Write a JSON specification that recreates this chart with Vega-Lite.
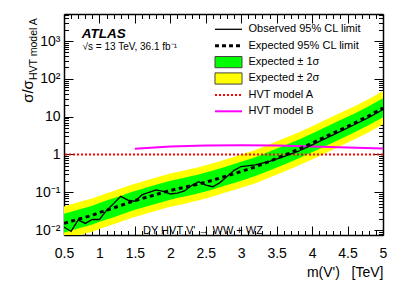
{
  "$schema": "https://vega.github.io/schema/vega-lite/v6.json",
  "width": 319,
  "height": 221,
  "autosize": {"type": "none"},
  "padding": {"left": 64, "top": 14, "right": 20, "bottom": 57},
  "background": "white",
  "config": {
    "view": {"stroke": null},
    "font": "Liberation Sans",
    "axis": {
      "domainColor": "black", "domainWidth": 1.5, "tickColor": "black", "tickWidth": 1,
      "labelFont": "Liberation Sans", "labelFontSize": 14, "labelColor": "black",
      "titleFont": "Liberation Sans", "titleColor": "black", "titleFontWeight": "normal", "grid": false,
      "labelOverlap": false, "labelFlush": false, "labelBound": false
    },
    "text": {"font": "Liberation Sans", "color": "black"}
  },
  "datasets": {
    "limits": [
      {"m": 0.5, "exp": 0.0150, "obs": 0.0121, "lo2": 0.00555, "lo1": 0.00855, "hi1": 0.0270, "hi2": 0.0420},
      {"m": 0.6, "exp": 0.0170, "obs": 0.0092, "lo2": 0.00629, "lo1": 0.00969, "hi1": 0.0306, "hi2": 0.0476},
      {"m": 0.7, "exp": 0.0193, "obs": 0.0185, "lo2": 0.00714, "lo1": 0.0110, "hi1": 0.0347, "hi2": 0.0540},
      {"m": 0.8, "exp": 0.0218, "obs": 0.0150, "lo2": 0.00807, "lo1": 0.0124, "hi1": 0.0392, "hi2": 0.0610},
      {"m": 0.9, "exp": 0.0245, "obs": 0.0190, "lo2": 0.00907, "lo1": 0.0140, "hi1": 0.0441, "hi2": 0.0686},
      {"m": 1.0, "exp": 0.0290, "obs": 0.0190, "lo2": 0.0107, "lo1": 0.0165, "hi1": 0.0522, "hi2": 0.0812},
      {"m": 1.1, "exp": 0.0335, "obs": 0.0330, "lo2": 0.0124, "lo1": 0.0191, "hi1": 0.0603, "hi2": 0.0938},
      {"m": 1.2, "exp": 0.0385, "obs": 0.0500, "lo2": 0.0142, "lo1": 0.0219, "hi1": 0.0693, "hi2": 0.108},
      {"m": 1.3, "exp": 0.0445, "obs": 0.0780, "lo2": 0.0165, "lo1": 0.0254, "hi1": 0.0801, "hi2": 0.125},
      {"m": 1.4, "exp": 0.0520, "obs": 0.0620, "lo2": 0.0192, "lo1": 0.0296, "hi1": 0.0936, "hi2": 0.146},
      {"m": 1.5, "exp": 0.0600, "obs": 0.0580, "lo2": 0.0222, "lo1": 0.0342, "hi1": 0.108, "hi2": 0.168},
      {"m": 1.6, "exp": 0.0680, "obs": 0.0850, "lo2": 0.0252, "lo1": 0.0388, "hi1": 0.122, "hi2": 0.190},
      {"m": 1.7, "exp": 0.0770, "obs": 0.1000, "lo2": 0.0285, "lo1": 0.0439, "hi1": 0.139, "hi2": 0.216},
      {"m": 1.8, "exp": 0.0870, "obs": 0.1150, "lo2": 0.0322, "lo1": 0.0496, "hi1": 0.157, "hi2": 0.244},
      {"m": 1.9, "exp": 0.0990, "obs": 0.1050, "lo2": 0.0366, "lo1": 0.0564, "hi1": 0.178, "hi2": 0.277},
      {"m": 2.0, "exp": 0.112, "obs": 0.0900, "lo2": 0.0414, "lo1": 0.0638, "hi1": 0.202, "hi2": 0.314},
      {"m": 2.1, "exp": 0.123, "obs": 0.0950, "lo2": 0.0455, "lo1": 0.0701, "hi1": 0.221, "hi2": 0.344},
      {"m": 2.2, "exp": 0.135, "obs": 0.1080, "lo2": 0.0500, "lo1": 0.0770, "hi1": 0.243, "hi2": 0.378},
      {"m": 2.3, "exp": 0.149, "obs": 0.1500, "lo2": 0.0551, "lo1": 0.0849, "hi1": 0.268, "hi2": 0.417},
      {"m": 2.4, "exp": 0.165, "obs": 0.1900, "lo2": 0.0611, "lo1": 0.0941, "hi1": 0.297, "hi2": 0.462},
      {"m": 2.5, "exp": 0.185, "obs": 0.1550, "lo2": 0.0685, "lo1": 0.105, "hi1": 0.333, "hi2": 0.518},
      {"m": 2.6, "exp": 0.208, "obs": 0.1400, "lo2": 0.0770, "lo1": 0.119, "hi1": 0.374, "hi2": 0.582},
      {"m": 2.7, "exp": 0.238, "obs": 0.1800, "lo2": 0.0881, "lo1": 0.136, "hi1": 0.428, "hi2": 0.666},
      {"m": 2.8, "exp": 0.272, "obs": 0.2600, "lo2": 0.101, "lo1": 0.155, "hi1": 0.490, "hi2": 0.762},
      {"m": 2.9, "exp": 0.310, "obs": 0.3800, "lo2": 0.115, "lo1": 0.177, "hi1": 0.558, "hi2": 0.868},
      {"m": 3.0, "exp": 0.355, "obs": 0.4800, "lo2": 0.131, "lo1": 0.202, "hi1": 0.639, "hi2": 0.994},
      {"m": 3.2, "exp": 0.470, "obs": 0.5300, "lo2": 0.174, "lo1": 0.268, "hi1": 0.846, "hi2": 1.32},
      {"m": 3.4, "exp": 0.660, "obs": 0.6600, "lo2": 0.244, "lo1": 0.376, "hi1": 1.19, "hi2": 1.85},
      {"m": 3.6, "exp": 0.940, "obs": 0.8800, "lo2": 0.348, "lo1": 0.536, "hi1": 1.69, "hi2": 2.63},
      {"m": 3.8, "exp": 1.35, "obs": 1.20, "lo2": 0.500, "lo1": 0.770, "hi1": 2.43, "hi2": 3.78},
      {"m": 4.0, "exp": 2.00, "obs": 1.80, "lo2": 0.740, "lo1": 1.14, "hi1": 3.60, "hi2": 5.60},
      {"m": 4.2, "exp": 3.00, "obs": 2.70, "lo2": 1.11, "lo1": 1.71, "hi1": 5.40, "hi2": 8.40},
      {"m": 4.4, "exp": 4.50, "obs": 4.10, "lo2": 1.67, "lo1": 2.57, "hi1": 8.10, "hi2": 12.6},
      {"m": 4.6, "exp": 6.80, "obs": 6.20, "lo2": 2.52, "lo1": 3.88, "hi1": 12.2, "hi2": 19.0},
      {"m": 4.8, "exp": 10.5, "obs": 9.50, "lo2": 3.89, "lo1": 5.99, "hi1": 18.9, "hi2": 29.4},
      {"m": 5.0, "exp": 17.0, "obs": 15.5, "lo2": 6.29, "lo1": 9.69, "hi1": 30.6, "hi2": 47.6}
    ],
    "modelB": [
      {"m": 1.5, "xs": 1.42},
      {"m": 2.0, "xs": 1.62},
      {"m": 2.5, "xs": 1.72},
      {"m": 3.0, "xs": 1.75},
      {"m": 3.5, "xs": 1.72},
      {"m": 4.0, "xs": 1.63},
      {"m": 4.5, "xs": 1.52},
      {"m": 5.0, "xs": 1.43}
    ],
    "one": [{}]
  },
  "layer": [
    {
      "data": {"name": "limits"},
      "mark": {"type": "area", "clip": true, "opacity": 1, "color": "#ffff00"},
      "encoding": {
        "x": {
          "field": "m", "type": "quantitative",
          "scale": {"domain": [0.5, 5], "nice": false, "zero": false},
          "axis": {
            "orient": "bottom",
            "values": [0.5,0.6,0.7,0.8,0.9,1,1.1,1.2,1.3,1.4,1.5,1.6,1.7,1.8,1.9,2,2.1,2.2,2.3,2.4,2.5,2.6,2.7,2.8,2.9,3,3.1,3.2,3.3,3.4,3.5,3.6,3.7,3.8,3.9,4,4.1,4.2,4.3,4.4,4.5,4.6,4.7,4.8,4.9,5],
            "labelExpr": "abs(datum.value*2-round(datum.value*2))<0.001 ? format(datum.value,'~g') : ''",
            "tickSize": {"condition": {"test": "abs(datum.value*2-round(datum.value*2))<0.001", "value": -9}, "value": -4.5},
            "labelPadding": 20,
            "title": "m(V')\u00a0\u00a0\u00a0[TeV]",
            "titleFontSize": 14,
            "titleX": 319, "titleY": 37, "titleAlign": "right", "titleBaseline": "middle", "titleAngle": 0
          }
        },
        "y": {
          "field": "lo2", "type": "quantitative",
          "scale": {"type": "log", "domain": [0.0074, 5200], "nice": false},
          "axis": {
            "orient": "left",
            "values": [0.008,0.009,0.01,0.02,0.03,0.04,0.05,0.06,0.07,0.08,0.09,0.1,0.2,0.3,0.4,0.5,0.6,0.7,0.8,0.9,1,2,3,4,5,6,7,8,9,10,20,30,40,50,60,70,80,90,100,200,300,400,500,600,700,800,900,1000,2000,3000,4000,5000],
            "labelExpr": "datum.value==0.01?'10⁻²':datum.value==0.1?'10⁻¹':datum.value==1?'1':datum.value==10?'10':datum.value==100?'10²':datum.value==1000?'10³':''",
            "tickSize": {"condition": {"test": "datum.value==0.01||datum.value==0.1||datum.value==1||datum.value==10||datum.value==100||datum.value==1000", "value": -9}, "value": -4.5},
            "labelPadding": 13,
            "title": "σ/σ",
            "titleFontSize": 15,
            "titleX": -36.5, "titleY": 77, "titleAngle": 270, "titleAlign": "center", "titleBaseline": "middle"
          }
        },
        "y2": {"field": "hi2"}
      }
    },
    {
      "data": {"name": "limits"},
      "mark": {"type": "area", "clip": true, "opacity": 1, "color": "#00ff00"},
      "encoding": {
        "x": {
          "field": "m", "type": "quantitative",
          "axis": {
            "orient": "top",
            "values": [0.5,0.6,0.7,0.8,0.9,1,1.1,1.2,1.3,1.4,1.5,1.6,1.7,1.8,1.9,2,2.1,2.2,2.3,2.4,2.5,2.6,2.7,2.8,2.9,3,3.1,3.2,3.3,3.4,3.5,3.6,3.7,3.8,3.9,4,4.1,4.2,4.3,4.4,4.5,4.6,4.7,4.8,4.9,5],
            "labels": false,
            "tickSize": {"condition": {"test": "abs(datum.value*2-round(datum.value*2))<0.001", "value": -9}, "value": -4.5},
            "title": null
          }
        },
        "y": {
          "field": "lo1", "type": "quantitative",
          "axis": {
            "orient": "right",
            "values": [0.008,0.009,0.01,0.02,0.03,0.04,0.05,0.06,0.07,0.08,0.09,0.1,0.2,0.3,0.4,0.5,0.6,0.7,0.8,0.9,1,2,3,4,5,6,7,8,9,10,20,30,40,50,60,70,80,90,100,200,300,400,500,600,700,800,900,1000,2000,3000,4000,5000],
            "labels": false,
            "tickSize": {"condition": {"test": "datum.value==0.01||datum.value==0.1||datum.value==1||datum.value==10||datum.value==100||datum.value==1000", "value": -9}, "value": -4.5},
            "title": null
          }
        },
        "y2": {"field": "hi1"}
      }
    },
    {
      "data": {"name": "one"},
      "mark": {"type": "rule", "color": "#ff0000", "strokeDash": [2, 2], "strokeWidth": 2},
      "encoding": {"y": {"datum": 1, "type": "quantitative", "axis": null}}
    },
    {
      "data": {"name": "modelB"},
      "mark": {"type": "line", "clip": true, "color": "#ff00ff", "strokeWidth": 2},
      "encoding": {
        "x": {"field": "m", "type": "quantitative", "axis": null},
        "y": {"field": "xs", "type": "quantitative", "axis": null}
      }
    },
    {
      "data": {"name": "limits"},
      "mark": {"type": "line", "clip": true, "color": "black", "strokeWidth": 1.3},
      "encoding": {
        "x": {"field": "m", "type": "quantitative", "axis": null},
        "y": {"field": "obs", "type": "quantitative", "axis": null}
      }
    },
    {
      "data": {"name": "limits"},
      "mark": {"type": "line", "clip": true, "color": "black", "strokeWidth": 3, "strokeDash": [4, 3.5]},
      "encoding": {
        "x": {"field": "m", "type": "quantitative", "axis": null},
        "y": {"field": "exp", "type": "quantitative", "axis": null}
      }
    },
    {
      "data": {"name": "one"},
      "mark": {"type": "rule", "color": "black", "strokeWidth": 1.3},
      "encoding": {
        "x": {"datum": 2.63, "type": "quantitative", "axis": null},
        "x2": {"datum": 3.011},
        "y": {"datum": 2047, "type": "quantitative", "axis": null}
      }
    },
    {
      "data": {"name": "one"},
      "mark": {"type": "rule", "color": "black", "strokeWidth": 3, "strokeDash": [4, 3]},
      "encoding": {
        "x": {"datum": 2.63, "type": "quantitative", "axis": null},
        "x2": {"datum": 3.011},
        "y": {"datum": 754, "type": "quantitative", "axis": null}
      }
    },
    {
      "data": {"name": "one"},
      "mark": {"type": "rect", "fill": "#00ff00", "stroke": "#444444", "strokeWidth": 1},
      "encoding": {
        "x": {"datum": 2.63, "type": "quantitative", "axis": null},
        "x2": {"datum": 3.011},
        "y": {"datum": 197, "type": "quantitative", "axis": null},
        "y2": {"datum": 389.5}
      }
    },
    {
      "data": {"name": "one"},
      "mark": {"type": "rect", "fill": "#ffff00", "stroke": "#444444", "strokeWidth": 1},
      "encoding": {
        "x": {"datum": 2.63, "type": "quantitative", "axis": null},
        "x2": {"datum": 3.011},
        "y": {"datum": 72.8, "type": "quantitative", "axis": null},
        "y2": {"datum": 143.8}
      }
    },
    {
      "data": {"name": "one"},
      "mark": {"type": "rule", "color": "#ff0000", "strokeWidth": 2, "strokeDash": [2, 2]},
      "encoding": {
        "x": {"datum": 2.63, "type": "quantitative", "axis": null},
        "x2": {"datum": 3.011},
        "y": {"datum": 37.6, "type": "quantitative", "axis": null}
      }
    },
    {
      "data": {"name": "one"},
      "mark": {"type": "rule", "color": "#ff00ff", "strokeWidth": 2},
      "encoding": {
        "x": {"datum": 2.63, "type": "quantitative", "axis": null},
        "x2": {"datum": 3.011},
        "y": {"datum": 13.86, "type": "quantitative", "axis": null}
      }
    },
    {
      "data": {"values": [{"label": "Observed 95% CL limit"}]},
      "mark": {"type": "text", "fontSize": 11, "align": "left", "baseline": "middle"},
      "encoding": {
        "x": {"datum": 3.102, "type": "quantitative", "axis": null},
        "y": {"datum": 2047, "type": "quantitative", "axis": null},
        "text": {"field": "label"}
      }
    },
    {
      "data": {"values": [{"label": "Expected 95% CL limit"}]},
      "mark": {"type": "text", "fontSize": 11, "align": "left", "baseline": "middle"},
      "encoding": {
        "x": {"datum": 3.102, "type": "quantitative", "axis": null},
        "y": {"datum": 754, "type": "quantitative", "axis": null},
        "text": {"field": "label"}
      }
    },
    {
      "data": {"values": [{"label": "Expected ± 1σ"}]},
      "mark": {"type": "text", "fontSize": 11, "align": "left", "baseline": "middle"},
      "encoding": {
        "x": {"datum": 3.102, "type": "quantitative", "axis": null},
        "y": {"datum": 277, "type": "quantitative", "axis": null},
        "text": {"field": "label"}
      }
    },
    {
      "data": {"values": [{"label": "Expected ± 2σ"}]},
      "mark": {"type": "text", "fontSize": 11, "align": "left", "baseline": "middle"},
      "encoding": {
        "x": {"datum": 3.102, "type": "quantitative", "axis": null},
        "y": {"datum": 102.3, "type": "quantitative", "axis": null},
        "text": {"field": "label"}
      }
    },
    {
      "data": {"values": [{"label": "HVT model A"}]},
      "mark": {"type": "text", "fontSize": 11, "align": "left", "baseline": "middle"},
      "encoding": {
        "x": {"datum": 3.102, "type": "quantitative", "axis": null},
        "y": {"datum": 37.6, "type": "quantitative", "axis": null},
        "text": {"field": "label"}
      }
    },
    {
      "data": {"values": [{"label": "HVT model B"}]},
      "mark": {"type": "text", "fontSize": 11, "align": "left", "baseline": "middle"},
      "encoding": {
        "x": {"datum": 3.102, "type": "quantitative", "axis": null},
        "y": {"datum": 13.86, "type": "quantitative", "axis": null},
        "text": {"field": "label"}
      }
    },
    {
      "data": {"values": [{"label": "ATLAS"}]},
      "mark": {"type": "text", "fontSize": 13.5, "fontWeight": "bold", "fontStyle": "italic", "align": "left", "baseline": "alphabetic"},
      "encoding": {
        "x": {"datum": 0.75, "type": "quantitative", "axis": null},
        "y": {"datum": 1216, "type": "quantitative", "axis": null},
        "text": {"field": "label"}
      }
    },
    {
      "data": {"values": [{"label": "√s = 13 TeV, 36.1 fb⁻¹"}]},
      "mark": {"type": "text", "fontSize": 10, "align": "left", "baseline": "alphabetic"},
      "encoding": {
        "x": {"datum": 0.762, "type": "quantitative", "axis": null},
        "y": {"datum": 574, "type": "quantitative", "axis": null},
        "text": {"field": "label"}
      }
    },
    {
      "data": {"values": [{"label": "DY HVT V' → WW + WZ"}]},
      "mark": {"type": "text", "fontSize": 11, "align": "center", "baseline": "middle"},
      "encoding": {
        "x": {"datum": 2.46, "type": "quantitative", "axis": null},
        "y": {"datum": 0.00953, "type": "quantitative", "axis": null},
        "text": {"field": "label"}
      }
    },
    {
      "data": {"values": [{"label": "HVT model A"}]},
      "mark": {"type": "text", "fontSize": 10.5, "align": "center", "baseline": "middle", "angle": 270},
      "encoding": {
        "x": {"datum": 0.077, "type": "quantitative", "axis": null},
        "y": {"datum": 611, "type": "quantitative", "axis": null},
        "text": {"field": "label"}
      }
    }
  ],
  "resolve": {"axis": {"x": "independent", "y": "independent"}}
}
